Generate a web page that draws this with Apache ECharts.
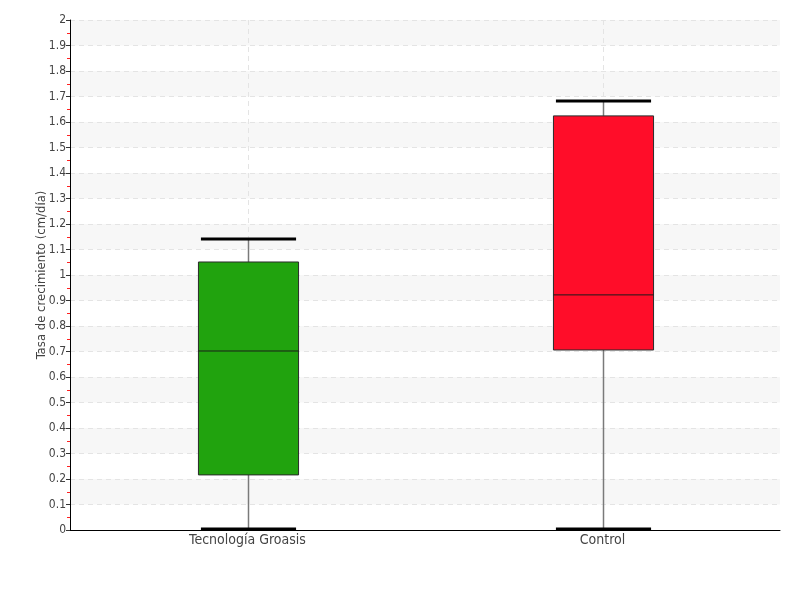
<!DOCTYPE html>
<html>
<head>
<meta charset="utf-8">
<script src="https://cdn.jsdelivr.net/npm/echarts@6/dist/echarts.min.js"></script>
<style>html,body{margin:0;padding:0;background:#fff}#c{width:800px;height:600px}</style>
</head>
<body>
<div id="c"></div>
<script>
const categories = ['Tecnología Groasis', 'Control'];
const lowerWhisker = [0, 0];
const q1 = [0.216, 0.706];
const median = [0.702, 0.922];
const q3 = [1.051, 1.624];
const upperWhisker = [1.141, 1.682];
const boxColors = ['#21a30e', '#ff0d29'];
const yTicks = [0, 0.1, 0.2, 0.3, 0.4, 0.5, 0.6, 0.7, 0.8, 0.9, 1, 1.1, 1.2, 1.3, 1.4, 1.5, 1.6, 1.7, 1.8, 1.9, 2];

const FONT = '"DejaVu Sans Condensed", "Liberation Sans Narrow", sans-serif';
const data = categories.map((c, i) => [i, lowerWhisker[i], q1[i], median[i], q3[i], upperWhisker[i]]);

const chart = echarts.init(document.getElementById('c'));
chart.setOption({
  animation: false,
  backgroundColor: '#fff',
  grid: { left: 70, right: 20, top: 20, bottom: 70 },
  xAxis: {
    type: 'category',
    data: categories,
    axisLine: { lineStyle: { color: '#000', width: 1 } },
    axisTick: { show: false },
    axisLabel: { color: '#444', fontFamily: FONT, fontSize: 14, margin: 3 },
    splitLine: { show: false }
  },
  yAxis: {
    type: 'value',
    min: 0, max: 2, interval: 0.1,
    name: 'Tasa de crecimiento (cm/día)',
    nameLocation: 'middle',
    nameGap: 22,
    nameMoveOverlap: false,
    nameTextStyle: { color: '#444', fontFamily: FONT, fontSize: 13 },
    axisLine: { show: true, lineStyle: { color: '#000', width: 1 } },
    axisTick: { show: true, length: 4, lineStyle: { color: '#333' } },
    minorTick: { show: true, splitNumber: 2, length: 3, lineStyle: { color: '#ff2020', width: 1 } },
    axisLabel: {
      color: '#444', fontFamily: FONT, fontSize: 12, margin: 4,
      formatter: v => { const t = yTicks.find(x => Math.abs(x - v) < 1e-6); return t === undefined ? '' : String(t); }
    },
    splitLine: { show: true, lineStyle: { color: '#e4e4e4', type: [5, 4], width: 1 } },
    splitArea: { show: true, areaStyle: { color: ['rgba(255,255,255,0)', '#f7f7f7'] } }
  },
  series: [{
    type: 'custom',
    data: data,
    encode: { x: 0, y: [1, 2, 3, 4, 5] },
    renderItem: function (params, api) {
      const idx = api.value(0);
      const band = api.size([1, 0])[0];
      const boxW = band * 0.282;
      const capW = band * 0.268;
      const pLow = api.coord([idx, api.value(1)]);
      const pQ1 = api.coord([idx, api.value(2)]);
      const pMed = api.coord([idx, api.value(3)]);
      const pQ3 = api.coord([idx, api.value(4)]);
      const pHigh = api.coord([idx, api.value(5)]);
      const pTop = api.coord([idx, 2]);
      const pBot = api.coord([idx, 0]);
      const x = Math.round(pLow[0]) + 0.5;
      return {
        type: 'group',
        children: [
          { type: 'line', shape: { x1: x, y1: pTop[1], x2: x, y2: pBot[1] },
            style: { stroke: '#e4e4e4', lineWidth: 1, lineDash: [5, 4] } },
          { type: 'line', shape: { x1: x, y1: pLow[1], x2: x, y2: pQ1[1] },
            style: { stroke: '#7a7a7a', lineWidth: 1.5 } },
          { type: 'line', shape: { x1: x, y1: pQ3[1], x2: x, y2: pHigh[1] },
            style: { stroke: '#7a7a7a', lineWidth: 1.5 } },
          { type: 'line', shape: { x1: x - capW / 2, y1: pHigh[1], x2: x + capW / 2, y2: pHigh[1] },
            style: { stroke: '#000', lineWidth: 3 } },
          { type: 'line', shape: { x1: x - capW / 2, y1: pLow[1] - 1, x2: x + capW / 2, y2: pLow[1] - 1 },
            style: { stroke: '#000', lineWidth: 3 } },
          { type: 'rect', shape: { x: x - boxW / 2, y: pQ3[1], width: boxW, height: pQ1[1] - pQ3[1] },
            style: { fill: boxColors[idx], stroke: '#2a2a2a', lineWidth: 1 } },
          { type: 'line', shape: { x1: x - boxW / 2, y1: pMed[1], x2: x + boxW / 2, y2: pMed[1] },
            style: { stroke: '#1a1a1a', lineWidth: 1 } }
        ]
      };
    }
  }]
});
</script>
</body>
</html>
